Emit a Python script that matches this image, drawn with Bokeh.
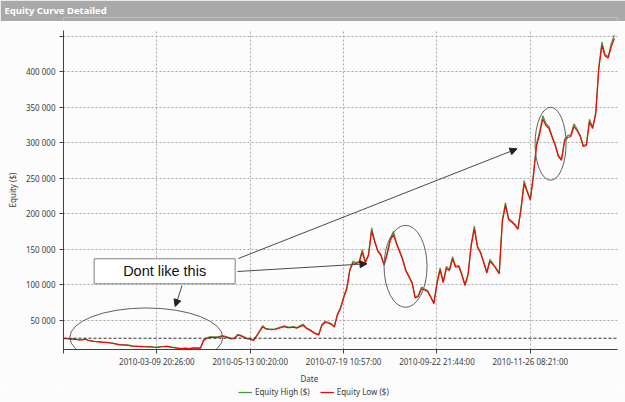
from bokeh.plotting import figure
from bokeh.models import (Range1d, FixedTicker, Legend, LegendItem, Label, Arrow,
                          NormalHead, Span, Title)
from bokeh.layouts import column
from bokeh.embed import file_html
from bokeh.resources import INLINE

TITLE = "Equity Curve Detailed"
X_TICK_POS = [0, 30, 60, 90, 120, 150]
X_TICK_LABELS = ["", "2010-03-09 20:26:00", "2010-05-13 00:20:00",
                 "2010-07-19 10:57:00", "2010-09-22 21:44:00", "2010-11-26 08:21:00"]
Y_TICKS = [50000, 100000, 150000, 200000, 250000, 300000, 350000, 400000, 450000]
START_BALANCE = 25000

EQUITY_LOW = [
    24600, 24400, 23900, 23700, 23200, 22700, 22500, 23900, 21800, 21000,
    20400, 20000, 19600, 19000, 18700, 18300, 17600, 16600, 15600, 15500,
    15400, 14800, 13900, 13700, 13400, 13200, 13000, 12800, 12700, 12300,
    12000, 12700, 13000, 13400, 12800, 12000, 11300, 10600, 10200, 10600,
    10500, 10700, 11100, 11200, 11000, 21800, 24600, 26300, 26100, 26000,
    26500, 27700, 26800, 25400, 23900, 24600, 29600, 28200, 26100, 24200,
    23900, 21800, 27500, 34500, 40800, 38000, 37300, 37000, 37300, 38700,
    40100, 41300, 39900, 40100, 40400, 39200, 41300, 43200, 39000, 36600,
    33800, 31100, 29600, 43000, 47200, 46500, 44600, 40800, 57700, 66900,
    81700, 94400, 120400, 131000, 130300, 131700, 145800, 131300, 141600, 176000,
    160600, 147500, 141600, 127700, 143000, 162700, 171000, 157800, 146900, 135200,
    119700, 111300, 102500, 81700, 83800, 94600, 93000, 90800, 82400, 73700,
    102100, 121100, 103500, 123200, 120400, 136600, 125100, 126100, 114100, 99300,
    114800, 155600, 179000, 153200, 145100, 131700, 116900, 133100, 128900, 122500,
    115500, 189400, 212000, 192300, 188700, 184500, 178200, 206300, 242500, 231000,
    219700, 254200, 296500, 312700, 333800, 324700, 320400, 307800, 296500, 281000,
    275400, 302100, 307800, 309200, 323200, 317600, 309600, 295100, 296500, 329600,
    320400, 340200, 404900, 437300, 422500, 419700, 435900, 447200,
]

EQUITY_HIGH = [
    25000, 24800, 24300, 24100, 23600, 23100, 22900, 24400, 22200, 21400,
    20800, 20400, 20000, 19400, 19100, 18700, 18000, 17000, 16000, 15900,
    15800, 15200, 14300, 14100, 13800, 13600, 13400, 13200, 13100, 12700,
    12400, 13100, 13400, 13800, 13200, 12400, 11700, 11000, 10600, 11000,
    10900, 11100, 11500, 11600, 11400, 22600, 25400, 27100, 26900, 26800,
    27300, 28600, 27600, 26200, 24700, 25400, 30600, 29000, 26900, 25000,
    24700, 22600, 28400, 35500, 42800, 38900, 38200, 37900, 38200, 39700,
    41100, 42600, 40800, 41000, 41400, 40100, 42500, 44800, 39900, 37500,
    34700, 32000, 30500, 44200, 48800, 47500, 45600, 41700, 59000, 68200,
    83000, 95700, 122000, 133500, 131600, 133000, 150000, 132600, 143000, 180500,
    162000, 148800, 142900, 129000, 146000, 165000, 175500, 159200, 148200, 136500,
    121000, 112600, 103800, 83000, 85100, 97000, 94300, 92100, 83700, 75000,
    103500, 124000, 104800, 126000, 121700, 140000, 126400, 127500, 115400, 100600,
    116100, 157500, 183000, 154500, 146500, 133000, 118200, 136000, 130200, 123800,
    116800, 191500, 216000, 193600, 190000, 185800, 179500, 208500, 247000, 232500,
    221000, 256500, 299500, 316500, 338500, 327500, 323000, 309500, 298000, 282500,
    276800, 305000, 310500, 311500, 327000, 319500, 311000, 296500, 298000, 333500,
    322000, 343000, 408000, 442000, 424500, 421500, 440000, 452000,
]

bars = list(range(len(EQUITY_LOW)))

FONT = "Noto Sans"
BG = "#fbfcfb"
BAR = "#a9a9a9"
RED = "#ff0000"
GREEN = "#3a9a3a"
TXT = "#3c3c3c"
MB_L, MB_R = 63, 8

# ---- title bar ----
head = figure(width=625, height=21, toolbar_location=None, output_backend="svg",
              min_border_left=MB_L, min_border_right=MB_R, min_border_top=17, min_border_bottom=0,
              x_axis_type=None, y_axis_type=None)
head.grid.visible = False
head.outline_line_color = None
head.background_fill_color = BAR
head.border_fill_color = BAR
head.title.text = TITLE
head.title.align = "left"
head.title.offset = 4 - MB_L
head.title.standoff = 2
head.title.text_color = "white"
head.title.text_font = FONT
head.title.text_font_style = "bold"
head.title.text_font_size = "9.5px"

# ---- main chart ----
p = figure(width=625, height=363, x_range=Range1d(0, 178), y_range=Range1d(9150, 458450),
           toolbar_location=None, output_backend="svg",
           min_border_left=MB_L, min_border_right=MB_R, min_border_top=9, min_border_bottom=35,
           background_fill_color=BG, border_fill_color=BG)
p.outline_line_color = None

p.xaxis.ticker = FixedTicker(ticks=X_TICK_POS)
p.xaxis.major_label_overrides = dict(zip(X_TICK_POS, X_TICK_LABELS))
p.yaxis.ticker = FixedTicker(ticks=Y_TICKS)
p.yaxis.major_label_overrides = {v: ("" if v == 450000 else f"{v:,}".replace(",", " "))
                                 for v in Y_TICKS}
for ax in (p.xaxis, p.yaxis):
    ax.axis_line_color = "#404040"
    ax.major_tick_line_color = "#404040"
    ax.major_tick_out = 4
    ax.major_tick_in = 0
    ax.minor_tick_line_color = None
    ax.major_label_text_font = FONT
    ax.major_label_text_font_size = "8px"
    ax.major_label_text_color = TXT
    ax.major_label_standoff = 4
p.xaxis.major_label_standoff = 2
p.yaxis.axis_label = "Equity ($)"
p.yaxis.axis_label_text_font = FONT
p.yaxis.axis_label_text_font_size = "8px"
p.yaxis.axis_label_text_font_style = "normal"
p.yaxis.axis_label_text_color = TXT
p.yaxis.axis_label_standoff = 5

p.grid.grid_line_color = "#a8a8a8"
p.grid.grid_line_dash = "2 2"

p.add_layout(Span(location=START_BALANCE, dimension="width", line_color="#303030",
                  line_width=1, line_dash="3 2"))

r_high = p.line(bars, EQUITY_HIGH, line_color=GREEN, line_width=1.2)
r_low = p.line(bars, EQUITY_LOW, line_color=RED, line_width=1.2)

# ---- annotations ----
ANN_ELL_X = [26.6, 109.9, 156.5]
ANN_ELL_Y = [26100, 126300, 298900]
ANN_ELL_W = [153, 43, 31]
ANN_ELL_H = [59, 82, 73]
p.ellipse(x=ANN_ELL_X, y=ANN_ELL_Y, width=ANN_ELL_W, height=ANN_ELL_H,
          width_units="screen", height_units="screen",
          fill_color=None, line_color="#606060", line_width=1)

for xs, ys, xe, ye in [(38.1, 99300, 35.9, 69700),
                       (56.2, 137300, 145.7, 291800),
                       (55.9, 119000, 97.5, 129900)]:
    p.add_layout(Arrow(end=NormalHead(size=7, fill_color="#222222", line_color="#222222"),
                       x_start=xs, y_start=ys, x_end=xe, y_end=ye,
                       line_color="#4a4a4a", line_width=1))

p.rect(x=[32.5], y=[119300], width=141, height=25, width_units="screen",
       height_units="screen", fill_color="white", line_color="#808080")
p.add_layout(Label(x=32.5, y=119300, text="Dont like this", text_align="center",
                   text_baseline="middle", text_font="Liberation Sans",
                   text_font_size="14.5px", text_color="#111111"))

p.add_layout(Title(text="Date", align="left", offset=237, text_font=FONT,
                   text_font_size="8px", text_font_style="normal", text_color=TXT,
                   standoff=2), "below")

# ---- legend strip (proxy renderers: one point each, draws nothing in the strip) ----
leg = figure(width=625, height=18, x_range=Range1d(0, 625 - MB_L - MB_R), y_range=Range1d(0, 18),
             toolbar_location=None, output_backend="svg",
             min_border_left=MB_L, min_border_right=MB_R, min_border_top=0, min_border_bottom=0,
             x_axis_type=None, y_axis_type=None, background_fill_color=BG, border_fill_color=BG)
leg.grid.visible = False
leg.outline_line_color = None
k_high = leg.line(x=[-50], y=[-50], line_color=GREEN, line_width=1.2)
k_low = leg.line(x=[-50], y=[-50], line_color=RED, line_width=1.2)
legend = Legend(items=[LegendItem(label="Equity High ($)", renderers=[k_high]),
                       LegendItem(label="Equity Low ($)", renderers=[k_low])],
                orientation="horizontal", location=(175, 5),
                glyph_width=14, glyph_height=10, label_standoff=3, spacing=10,
                padding=0, margin=0, border_line_color=None, background_fill_alpha=0,
                label_text_font=FONT, label_text_font_size="8px",
                label_text_color=TXT, label_height=10)
leg.add_layout(legend)

layout = column(head, p, leg, spacing=0)
open("out.html", "w").write(file_html(layout, INLINE))
